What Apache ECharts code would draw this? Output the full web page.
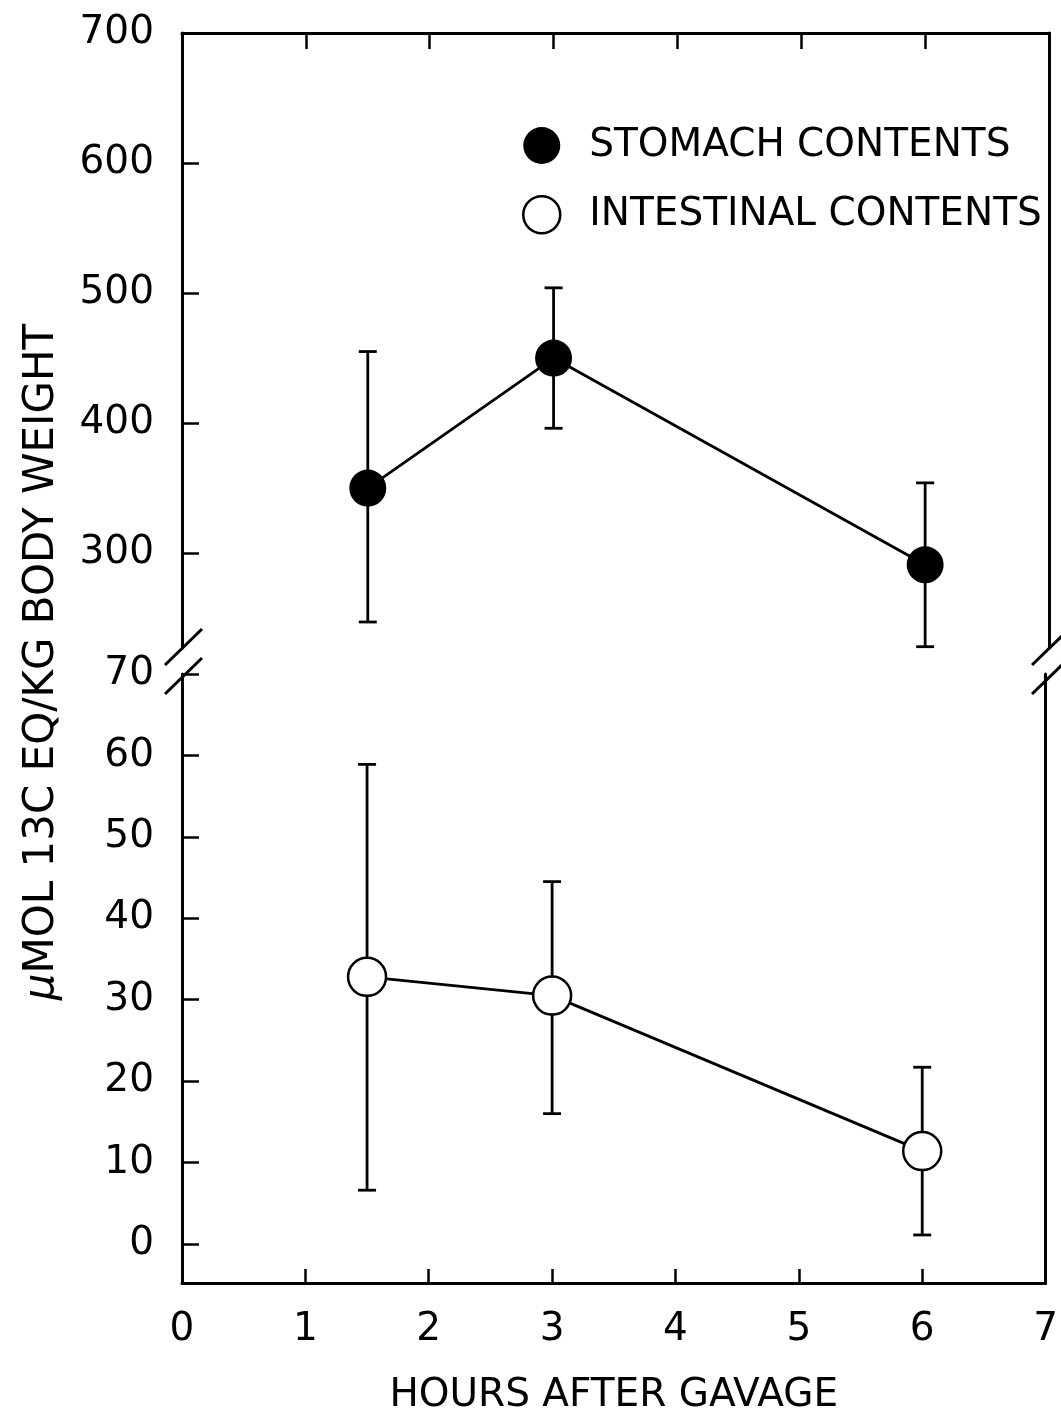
<!DOCTYPE html>
<html>
<head>
<meta charset="utf-8">
<script src="https://cdn.jsdelivr.net/npm/echarts@6/dist/echarts.min.js"></script>
<style>
  html, body { margin: 0; padding: 0; background: #fff; overflow: hidden; }
  #chart { width: 1061px; height: 1416px; }
</style>
</head>
<body>
<div id="chart"></div>
<script>
// Sampling times (hours after gavage)
const hours = [1.5, 3, 6];

// Stomach contents (upper panel): mean and error bar limits
const stomachMean = [350, 450, 291];
const stomachHigh = [455, 504, 354];
const stomachLow  = [247, 396, 228];

// Intestinal contents (lower panel): mean and error bar limits
const intestineMean = [32.8, 30.5, 11.4];
const intestineHigh = [58.9, 44.5, 21.7];
const intestineLow  = [6.6, 16.0, 1.1];

// Tick values
const upperTicks = [300, 400, 500, 600, 700];
const lowerTicks = [0, 10, 20, 30, 40, 50, 60, 70];

const FONT = '"DejaVu Sans", "Liberation Sans", sans-serif';
const INK = '#000';

// Layout of the two stacked panels (broken y axis)
const LEFT = 182, RIGHT_PX = 1049, W = 1061;
const UPPER_TOP = 33, UPPER_HEIGHT = 615;
const LOWER_TOP = 674, LOWER_HEIGHT = 611;

const chart = echarts.init(document.getElementById('chart'), null, { renderer: 'canvas', width: 1061, height: 1416 });

function errorBars(params, api) {
  const x = api.value(0);
  const top = api.coord([x, api.value(1)]);
  const bot = api.coord([x, api.value(2)]);
  const cap = 9;
  const style = { stroke: INK, lineWidth: 2.8 };
  return {
    type: 'group',
    children: [
      { type: 'line', shape: { x1: top[0], y1: top[1], x2: bot[0], y2: bot[1] }, style },
      { type: 'line', shape: { x1: top[0] - cap, y1: top[1], x2: top[0] + cap, y2: top[1] }, style },
      { type: 'line', shape: { x1: bot[0] - cap, y1: bot[1], x2: bot[0] + cap, y2: bot[1] }, style }
    ]
  };
}

function xAxisDef(gridIndex, position, showLabels) {
  return {
    type: 'value', gridIndex, position, min: 0, max: 7, interval: 1,
    axisLine: { show: true, onZero: false, lineStyle: { color: INK, width: 3 } },
    axisTick: { show: true, inside: true, length: position === 'top' ? 16 : 14, lineStyle: { color: INK, width: 2.5 } },
    axisLabel: { show: showLabels, margin: 27, fontSize: 39, fontFamily: FONT, color: INK },
    splitLine: { show: false }
  };
}

function yAxisDef(gridIndex, min, max, ticks) {
  return {
    type: 'value', gridIndex, position: 'left', min, max,
    axisLine: { show: true, onZero: false, lineStyle: { color: INK, width: 3 } },
    axisTick: { show: true, inside: true, length: 17, customValues: ticks, lineStyle: { color: INK, width: 2.5 } },
    axisLabel: { show: true, margin: 28, customValues: ticks, fontSize: 39, fontFamily: FONT, color: INK },
    splitLine: { show: false }
  };
}

function rightFrame(gridIndex, min, max) {
  return {
    type: 'value', gridIndex, position: 'right', min, max,
    axisLine: { show: true, onZero: false, lineStyle: { color: INK, width: 3 } },
    axisTick: { show: false }, axisLabel: { show: false }, splitLine: { show: false }
  };
}

// Diagonal break marks where both vertical frame lines are cut
const breakMarks = [];
[LEFT, RIGHT_PX].forEach(ax => {
  [UPPER_TOP + UPPER_HEIGHT, LOWER_TOP + 3].forEach(y => {
    breakMarks.push({
      type: 'line',
      shape: { x1: ax - 17, y1: y + 17, x2: ax + 20, y2: y - 19 },
      style: { stroke: INK, lineWidth: 3 }
    });
  });
});

const option = {
  backgroundColor: '#fff',
  animation: false,
  grid: [
    { left: LEFT, width: RIGHT_PX - LEFT, top: UPPER_TOP, height: UPPER_HEIGHT, containLabel: false },
    { left: LEFT, width: RIGHT_PX - LEFT, top: LOWER_TOP, height: LOWER_HEIGHT, containLabel: false }
  ],
  xAxis: [
    xAxisDef(0, 'top', false),
    Object.assign(xAxisDef(1, 'bottom', true), {
      name: 'HOURS AFTER GAVAGE',
      nameLocation: 'middle',
      nameGap: 93,
      nameTextStyle: { fontSize: 39, fontFamily: FONT, color: INK }
    })
  ],
  yAxis: [
    yAxisDef(0, 227, 700, upperTicks),
    rightFrame(0, 227, 700),
    yAxisDef(1, -4.8, 70, lowerTicks),
    rightFrame(1, -4.8, 70)
  ],
  legend: {
    orient: 'vertical',
    left: 522,
    top: 126,
    itemWidth: 37,
    itemHeight: 37,
    itemGap: 30,
    padding: 0,
    selectedMode: false,
    textStyle: { fontSize: 39, fontFamily: FONT, color: INK, padding: [0, 0, 0, 24] },
    data: [
      { name: 'STOMACH CONTENTS', icon: 'circle', itemStyle: { color: INK, borderWidth: 0 } },
      { name: 'INTESTINAL CONTENTS', icon: 'circle', itemStyle: { color: '#fff', borderColor: INK, borderWidth: 2.5 } }
    ]
  },
  graphic: breakMarks.concat([
    {
      type: 'text',
      x: 42, y: 662,
      rotation: Math.PI / 2,
      style: {
        text: '{m|μ}MOL 13C EQ/KG BODY WEIGHT',
        fontSize: 42,
        fontFamily: FONT,
        fill: INK,
        align: 'center',
        verticalAlign: 'middle',
        rich: { m: { fontSize: 42, fontFamily: FONT, fontStyle: 'italic', fill: INK } }
      }
    }
  ]),
  series: [
    {
      type: 'custom', xAxisIndex: 0, yAxisIndex: 0, z: 1,
      renderItem: errorBars,
      encode: { x: 0, y: [1, 2] },
      data: hours.map((h, i) => [h, stomachHigh[i], stomachLow[i]])
    },
    {
      name: 'STOMACH CONTENTS', type: 'line', xAxisIndex: 0, yAxisIndex: 0, z: 3,
      symbol: 'circle', symbolSize: 37,
      itemStyle: { color: INK },
      lineStyle: { color: INK, width: 2.8 },
      data: hours.map((h, i) => [h, stomachMean[i]])
    },
    {
      type: 'custom', xAxisIndex: 1, yAxisIndex: 2, z: 1,
      renderItem: errorBars,
      encode: { x: 0, y: [1, 2] },
      data: hours.map((h, i) => [h, intestineHigh[i], intestineLow[i]])
    },
    {
      name: 'INTESTINAL CONTENTS', type: 'line', xAxisIndex: 1, yAxisIndex: 2, z: 3,
      symbol: 'circle', symbolSize: 38,
      itemStyle: { color: '#fff', borderColor: INK, borderWidth: 2.5 },
      lineStyle: { color: INK, width: 2.8 },
      data: hours.map((h, i) => [h, intestineMean[i]])
    }
  ]
};

chart.setOption(option);
</script>
</body>
</html>
